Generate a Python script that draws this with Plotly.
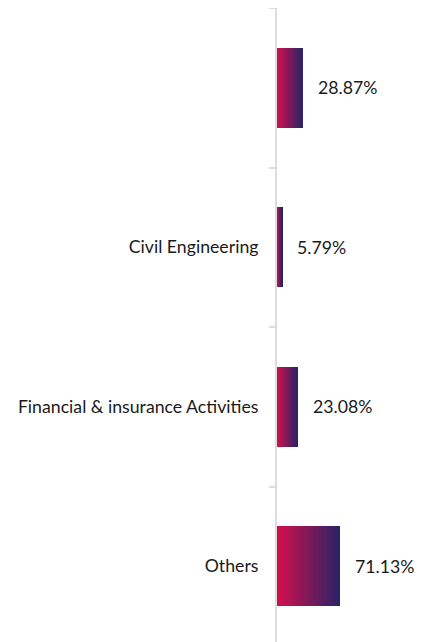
import plotly.graph_objects as go

categories = [" ", "Civil Engineering", "Financial & insurance Activities", "Others"]
values = [28.87, 5.79, 23.08, 71.13]
value_labels = ["28.87%", "5.79%", "23.08%", "71.13%"]

# gradient emulated with stacked slices
N = 40
c0 = (211, 16, 76)
c1 = (44, 34, 102)

def mix(t):
    return "rgb(%d,%d,%d)" % tuple(round(a + (b - a) * t) for a, b in zip(c0, c1))

fig = go.Figure()
for k in range(N):
    fig.add_trace(go.Bar(
        y=categories,
        x=[v / N for v in values],
        orientation="h",
        marker=dict(color=mix(k / (N - 1)), line=dict(width=0)),
        showlegend=False,
        hoverinfo="skip",
    ))

for cat, v, lab in zip(categories, values, value_labels):
    fig.add_annotation(x=v, y=cat, text=lab, showarrow=False, xanchor="left",
                       xshift=13, font=dict(family="Lato", size=17.7, color="#1a1a1a"))

fig.update_layout(
    width=427, height=642,
    margin=dict(l=269, r=0, t=0, b=0),
    barmode="stack", bargap=0.5,
    plot_bgcolor="white", paper_bgcolor="white",
    font=dict(family="Lato", size=17.7, color="#1a1a1a"),
    xaxis=dict(range=[0, 177.5], visible=False, showgrid=False, zeroline=False),
    yaxis=dict(range=[3.525, -0.5], type="category", tickson="boundaries",
               ticks="outside", ticklen=6, tickcolor="#dddddd", tickwidth=2,
               showline=True, linecolor="#dddddd", linewidth=2,
               showgrid=False, ticklabelstandoff=13),
)
fig.write_html("out.html")
